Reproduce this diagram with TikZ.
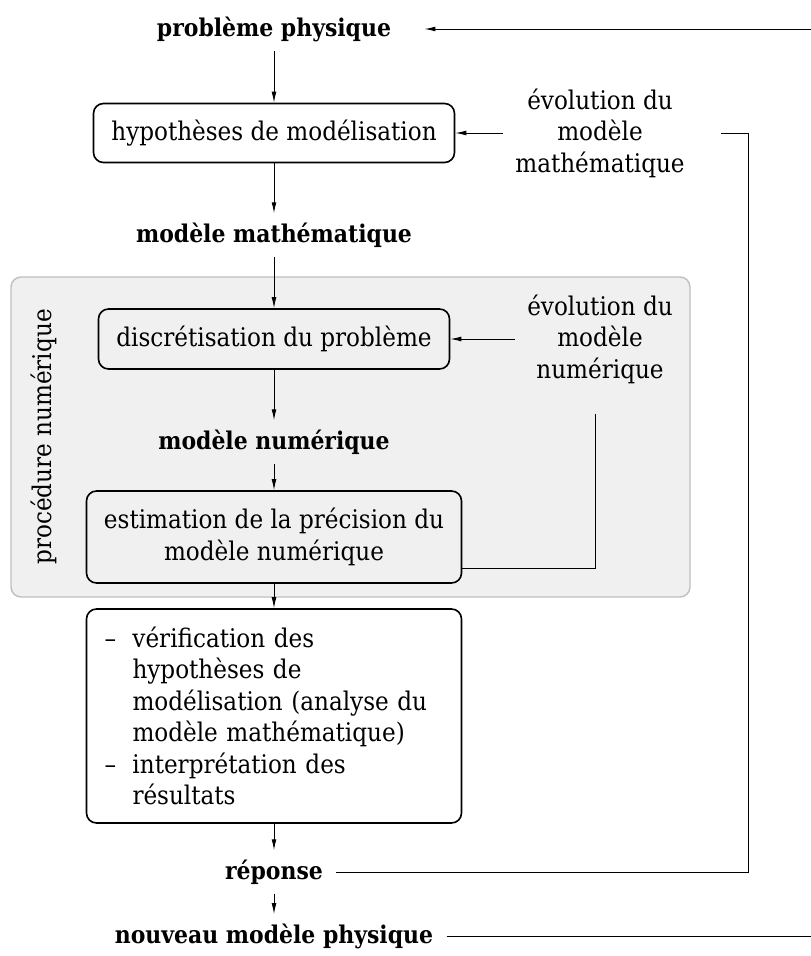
\documentclass[tikz,border=0pt]{standalone}
\usepackage{fontspec}
\setmainfont{DejaVu Serif Condensed}
\usetikzlibrary{arrows.meta}
\begin{document}
\begin{tikzpicture}[x=0.5pt,y=-0.5pt,
  every node/.style={font=\fontsize{12.85}{15.75}\selectfont},
  lbl/.style={font=\fontsize{12.2}{15.75}\selectfont\bfseries, inner xsep=6.5pt, inner ysep=4.5pt},
  box/.style={draw, line width=0.8pt, rounded corners=5pt, align=center, inner sep=0pt},
  evo/.style={align=center, inner xsep=6pt},
  arr/.style={-{Latex[length=5.5pt,width=2.4pt]}, line width=0.45pt},
  ln/.style={line width=0.45pt},
  panel/.style={draw=gray!50, fill=gray!12, line width=0.7pt, rounded corners=5pt}]
\useasboundingbox (0,0) rectangle (810,956);
% background panel
\draw[panel] (11,277) rectangle (690,597);
% nodes
\node[lbl] (pp) at (274,29) {problème physique};
\node[box, minimum width=180.5pt, minimum height=29.5pt] (hyp) at (274,133) {hypothèses de modélisation};
\node[evo] (evm) at (600,133) {évolution du\\modèle\\mathématique};
\node[lbl] (mm) at (274,235) {modèle mathématique};
\node[rotate=90] (proc) at (44,437) {procédure numérique};
\node[box, minimum width=175.5pt, minimum height=30pt] (disc) at (274,339) {discrétisation du problème};
\node[evo] (evn) at (600,339) {évolution du\\modèle\\numérique};
\node[lbl] (mn) at (274,442) {modèle numérique};
\node[box, minimum width=187.5pt, minimum height=46pt] (est) at (274,537) {estimation de la précision du\\modèle numérique};
\node[box, text width=169.5pt, inner xsep=9pt, minimum height=107pt, align=left] (ver) at (274,716)
  {\makebox[14pt][l]{–}vérification des\\
   \hspace*{14pt}hypothèses de\\
   \hspace*{14pt}modélisation (analyse du\\
   \hspace*{14pt}modèle mathématique)\\
   \makebox[14pt][l]{–}interprétation des\\
   \hspace*{14pt}résultats};
\node[lbl] (rep) at (274,872) {réponse};
\node[lbl] (nmp) at (274,936) {nouveau modèle physique};
% free ends of the loops
\coordinate (evmR) at (721,133);
\coordinate (rc1) at (748,133);
\coordinate (evnB) at (595,414);
\coordinate (rc2) at (830,936);
% main chain
\draw[arr] (pp) -- (hyp);
\draw[arr] (hyp) -- (mm);
\draw[arr] (mm) -- (disc);
\draw[arr] (disc) -- (mn);
\draw[arr] (mn) -- (est);
\draw[arr] (est) -- (ver);
\draw[arr] (ver) -- (rep);
\draw[arr] (rep) -- (nmp);
% feedback
\draw[arr] (evm.west) -- (hyp.east);
\draw[arr] (evn.west) -- (disc.east);
\draw[ln] ([yshift=7.5pt]est.south east) -| (evnB);
\draw[ln] (rep.east) -| (rc1) -- (evmR);
\draw[arr, shorten >=10pt] (nmp.east) -| (rc2) |- (pp.east);
\end{tikzpicture}
\end{document}
